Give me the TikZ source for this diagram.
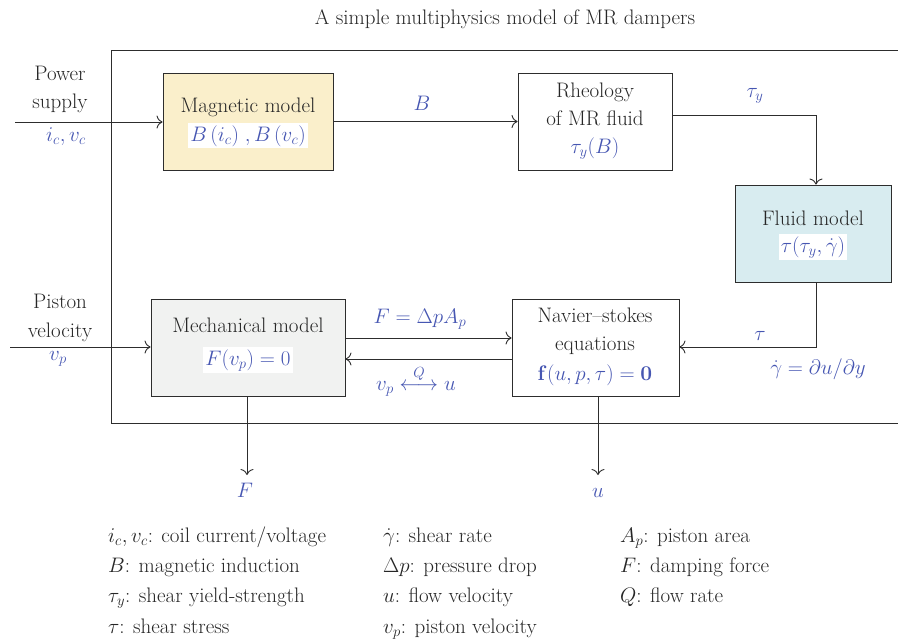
\RequirePackage{fix-cm}
\documentclass[tikz,border=0pt]{standalone}
\usepackage{amsmath}
\usetikzlibrary{arrows.meta}
\definecolor{symblue}{RGB}{70,86,178}
\definecolor{linegray}{RGB}{45,45,45}
\definecolor{magfill}{RGB}{250,239,203}
\definecolor{fluidfill}{RGB}{216,236,240}
\definecolor{mechfill}{RGB}{241,242,241}
\begin{document}
\begin{tikzpicture}[x=1pt,y=-1pt,
  every node/.style={font=\fontsize{21}{26}\selectfont, text=black!85},
  blockbox/.style={draw=linegray, line width=0.9pt, minimum height=97pt, inner sep=0pt},
  txt/.style={anchor=base, inner sep=0pt},
  sym/.style={anchor=base, inner sep=0pt, text=symblue},
  symbg/.style={anchor=base, inner sep=2pt, text=symblue, fill=white},
  wire/.style={draw=linegray, line width=0.9pt},
  flow/.style={wire, -{To[length=6pt,width=13pt]}},
  legend/.style={anchor=base west, inner sep=0pt}
]
\useasboundingbox (0,0) rectangle (898,643);

% title
\node[txt] (title) at (505,24) {A simple multiphysics model of MR dampers};

% open frame around the model
\draw[wire] (898,50) -- (111,50) -- (111,423) -- (898,423);

% blocks
\node[blockbox, fill=magfill, minimum width=170pt] (mag) at (248,121.5) {};
\node[blockbox, fill=white, minimum width=154pt] (rheo) at (595,121.5) {};
\node[blockbox, fill=fluidfill, minimum width=156pt] (fluid) at (813,233.5) {};
\node[blockbox, fill=white, minimum width=167pt] (ns) at (595.5,347.5) {};
\node[blockbox, fill=mechfill, minimum width=194pt] (mech) at (248,347.5) {};

% block texts
\node[txt] (magT) at (248,112) {Magnetic model};
\node[symbg] (magF) at (248,141) {$B\,(i_c)\;,B\,(v_c)$};
\node[txt] (rheoT1) at (595,97) {Rheology};
\node[txt] (rheoT2) at (595,125) {of MR fluid};
\node[sym] (rheoF) at (595,153) {$\tau_y(B)$};
\node[txt] (fluidT) at (813,225) {Fluid model};
\node[symbg] (fluidF) at (813,252) {$\tau(\tau_y,\dot{\gamma})$};
\node[txt] (mechT) at (248,332) {Mechanical model};
\node[symbg] (mechF) at (248,365) {$F(v_p)=0$};
\node[txt] (nsT1) at (595,322) {Navier--stokes};
\node[txt] (nsT2) at (595,350) {equations};
\node[sym] (nsF) at (595,380) {$\mathbf{f}(u,p,\tau)=\mathbf{0}$};

% inputs
\coordinate (pwr) at (15,122);
\coordinate (pis) at (10,347);
\node[txt] (pwrT1) at (60,80) {Power};
\node[txt] (pwrT2) at (60,108) {supply};
\node[sym] (pwrS) at (66,141) {$i_c,v_c$};
\node[txt] (pisT1) at (60,308) {Piston};
\node[txt] (pisT2) at (60,337) {velocity};
\node[sym] (pisS) at (58,360) {$v_p$};
\draw[flow] (pwr) -- (mag.west |- pwr);
\draw[flow] (pis) -- (mech.west |- pis);

% signal path
\draw[flow] (mag.east) -- (rheo.west);
\node[sym] (Blab) at (422,110) {$B$};
\draw[flow] (rheo.east |- 0,115) -- (816,115) -- (fluid.north -| 816,0);
\node[sym] (tylab) at (755,97) {$\tau_y$};
\draw[flow] (fluid.south -| 816,0) -- (816,347) -- (ns.east |- 0,347);
\node[sym] (taulab) at (760,340) {$\tau$};
\node[sym] (gdlab) at (818,374) {$\dot{\gamma}=\partial u/\partial y$};
\draw[flow] (mech.east |- 0,338) -- (ns.west |- 0,338);
\node[sym] (Flab) at (420,323) {$F=\Delta p A_p$};
\draw[flow] (ns.west |- 0,359) -- (mech.east |- 0,359);
\node[sym] (vqlab) at (416,390) {$v_p\overset{Q}{\longleftrightarrow}u$};

% outputs
\coordinate (Fout) at (247,475);
\coordinate (uout) at (598,475);
\draw[flow] (mech.south -| Fout) -- (Fout);
\draw[flow] (ns.south -| uout) -- (uout);
\node[sym] (Fo) at (245,497) {$F$};
\node[sym] (uo) at (598,497) {$u$};

% list of symbols
\node[legend] (l1) at (108,542) {$i_c, v_c$: coil current/voltage};
\node[legend] (l2) at (108,572) {$B$: magnetic induction};
\node[legend] (l3) at (108,602) {$\tau_y$: shear yield-strength};
\node[legend] (l4) at (108,633) {$\tau$: shear stress};
\node[legend] (l5) at (383,542) {$\dot{\gamma}$: shear rate};
\node[legend] (l6) at (383,572) {$\Delta p$: pressure drop};
\node[legend] (l7) at (383,602) {$u$: flow velocity};
\node[legend] (l8) at (383,633) {$v_p$: piston velocity};
\node[legend] (l9) at (620,542) {$A_p$: piston area};
\node[legend] (l10) at (620,572) {$F$: damping force};
\node[legend] (l11) at (620,602) {$Q$: flow rate};
\end{tikzpicture}
\end{document}
